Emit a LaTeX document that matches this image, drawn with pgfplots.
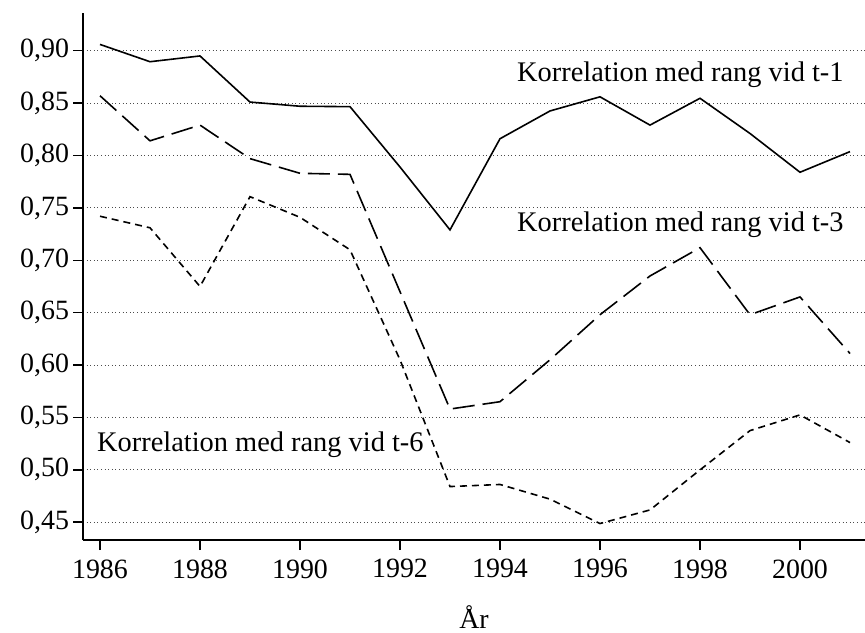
\documentclass[border=0pt]{standalone}
\usepackage{fontspec}
\setmainfont{Liberation Serif}
\usepackage{pgfplots}
\pgfplotsset{compat=1.18}
\usetikzlibrary{calc}
\begin{document}
\begin{tikzpicture}
\begin{axis}[
  scale only axis,
  width=782bp, height=527bp,
  xmin=1985.66, xmax=2001.3,
  ymin=0.433, ymax=0.936,
  axis x line*=bottom, axis y line*=left,
  axis line style={line width=1.4bp, -},
  xtick={1986,1988,...,2000},
  ytick={0.45,0.50,...,0.91},
  x tick label style={/pgf/number format/1000 sep={}},
  y tick label style={/pgf/number format/fixed, /pgf/number format/fixed zerofill, /pgf/number format/precision=2, /pgf/number format/use comma, xshift=-0.5bp},
  /pgf/number format/assume math mode=true,
  tick style={line width=1.4bp, black},
  tick align=outside,
  major tick length=10bp,
  tick label style={font=\fontsize{28}{32}\selectfont},
  xticklabel style={yshift=-6bp},
  ymajorgrids,
  major grid style={line width=0.8bp, black!70, dash pattern=on 1bp off 2.6bp},
  xlabel={År},
  xlabel style={font=\fontsize{28}{32}\selectfont, yshift=-20bp},
  clip=false,
]
\addplot[line width=1.6bp, black] coordinates {
(1986,0.906) (1987,0.8895) (1988,0.895) (1989,0.851) (1990,0.847) (1991,0.8466)
(1992,0.789) (1993,0.729) (1994,0.816) (1995,0.8425) (1996,0.856) (1997,0.829)
(1998,0.8546) (1999,0.821) (2000,0.784) (2001,0.8037)};
\addplot[line width=1.6bp, black, dash pattern=on 22bp off 8bp] coordinates {
(1986,0.857) (1987,0.814) (1988,0.829) (1989,0.797) (1990,0.783) (1991,0.782)
(1992,0.670) (1993,0.558) (1994,0.565) (1995,0.605) (1996,0.648) (1997,0.685)
(1998,0.712) (1999,0.648) (2000,0.665) (2001,0.611)};
\addplot[line width=1.6bp, black, dash pattern=on 7bp off 5bp] coordinates {
(1986,0.742) (1987,0.731) (1988,0.675) (1989,0.7607) (1990,0.741) (1991,0.710)
(1992,0.605) (1993,0.484) (1994,0.486) (1995,0.472) (1996,0.4487) (1997,0.4617)
(1998,0.4999) (1999,0.5374) (2000,0.5524) (2001,0.526)};
\node[anchor=west, inner sep=0pt, font=\fontsize{28.5}{32}\selectfont] at (axis cs:1994.34,0.877) {Korrelation med rang vid t-1};
\node[anchor=west, inner sep=0pt, font=\fontsize{28.5}{32}\selectfont] at (axis cs:1994.34,0.7336) {Korrelation med rang vid t-3};
\node[anchor=west, inner sep=0pt, font=\fontsize{28.5}{32}\selectfont] at (axis cs:1985.94,0.5238) {Korrelation med rang vid t-6};
\end{axis}
\pgfresetboundingbox
\path[use as bounding box] ($(current axis.south west)+(-83bp,-93bp)$) rectangle ++(865bp,633bp);
\end{tikzpicture}
\end{document}
